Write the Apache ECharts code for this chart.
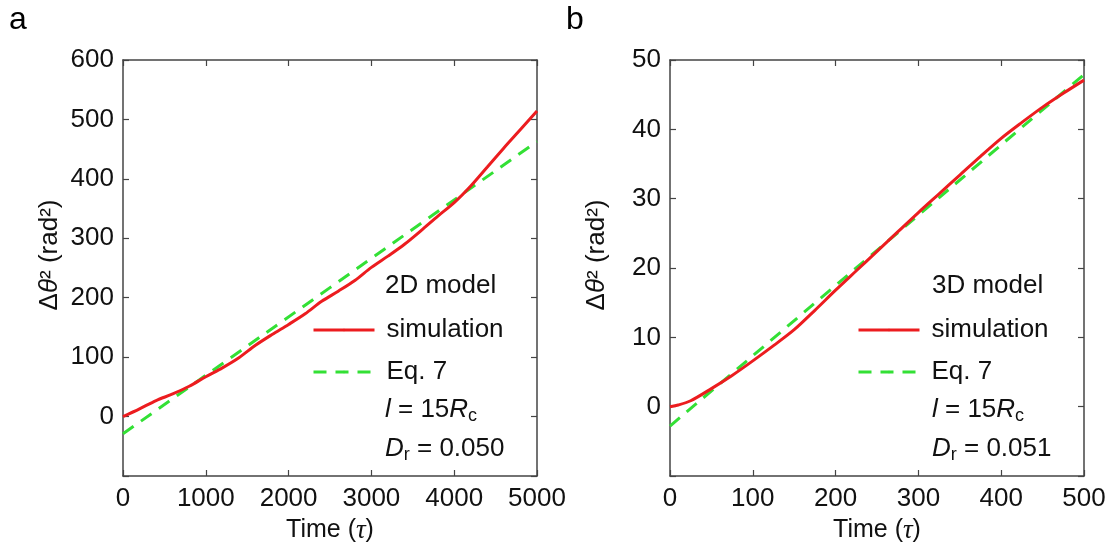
<!DOCTYPE html>
<html>
<head>
<meta charset="utf-8">
<script src="https://cdn.jsdelivr.net/npm/echarts@6/dist/echarts.min.js"></script>
<style>
  html, body { margin: 0; padding: 0; background: #fff; }
  #main { width: 1119px; height: 544px; }
</style>
</head>
<body>
<div id="main"></div>
<script>
// panel a : 2D model
var timeA = [0, 200, 400, 600, 800, 1000, 1200, 1400, 1600, 1800, 2000, 2200, 2400, 2600, 2800, 3000, 3200, 3400, 3600, 3800, 4000, 4200, 4400, 4600, 4800, 5000];
var simA  = [0, 13, 27, 38, 51, 67, 82, 99, 120, 138, 155, 173, 194, 211, 229, 251, 270, 290, 313, 337, 360, 388, 420, 452, 483, 514];
var eqTimeA = [0, 5000];
var eqA     = [-29, 463];

// panel b : 3D model
var timeB = [0, 10, 25, 50, 75, 100, 125, 150, 175, 200, 225, 250, 275, 300, 325, 350, 375, 400, 425, 450, 475, 500];
var simB  = [0, 0.25, 0.85, 2.6, 4.5, 6.6, 8.8, 11.1, 13.9, 16.8, 19.6, 22.4, 25.2, 28, 30.7, 33.4, 36.1, 38.7, 41.0, 43.2, 45.2, 47.1];
var eqTimeB = [0, 500];
var eqB     = [-2.8, 47.9];

// axis ranges (min, max, step)
var xRangeA = [0, 5000, 1000];
var yRangeA = [-100, 600, 100];
var xRangeB = [0, 500, 100];
var yRangeB = [-10, 50, 10];

var legendNames = ['simulation', 'Eq. 7'];
var infoA = ['2D model', '{it|l} = 15{it|R}{sub|c}', '{it|D}{sub|r} = 0.050'];
var infoB = ['3D model', '{it|l} = 15{it|R}{sub|c}', '{it|D}{sub|r} = 0.051'];

var FONT = 'Liberation Sans, Arial, sans-serif';
var AXIS_COLOR = '#444';
var RED = '#ec1c1f';
var GREEN = '#33e035';
var DASH = [13, 9];

function zip(xs, ys) {
  var res = [];
  for (var i = 0; i < xs.length; i++) res.push([xs[i], ys[i]]);
  return res;
}

function xAxes(gi, r) {
  var base = {
    type: 'value', gridIndex: gi, min: r[0], max: r[1], interval: r[2],
    splitLine: { show: false },
    axisLine: { onZero: false, lineStyle: { color: AXIS_COLOR, width: 1.5 } },
    axisTick: { inside: true, length: 6, lineStyle: { color: AXIS_COLOR, width: 1.2 } }
  };
  var bottom = Object.assign({}, base, {
    position: 'bottom',
    name: '{n|Time (}{i|τ}{n|)}',
    nameLocation: 'middle',
    nameGap: 41,
    nameTextStyle: {
      rich: {
        n: { fontFamily: FONT, fontSize: 25, color: '#111' },
        i: { fontFamily: 'Liberation Serif, serif', fontStyle: 'italic', fontSize: 27, color: '#111' }
      }
    },
    axisLabel: {
      margin: 10, fontFamily: FONT, fontSize: 26, color: '#111',
      formatter: function (v) { return String(v); }
    }
  });
  var top = Object.assign({}, base, { position: 'top', axisLabel: { show: false } });
  return [bottom, top];
}

function yAxes(gi, r) {
  var base = {
    type: 'value', gridIndex: gi, min: r[0], max: r[1], interval: r[2],
    splitLine: { show: false },
    axisLine: { onZero: false, lineStyle: { color: AXIS_COLOR, width: 1.5 } },
    axisTick: { inside: true, length: 6, lineStyle: { color: AXIS_COLOR, width: 1.2 } }
  };
  var left = Object.assign({}, base, {
    position: 'left',
    name: '{n|Δ}{i|θ}{n|² (rad²)}',
    nameLocation: 'middle',
    nameRotate: 90,
    nameGap: 60,
    nameTextStyle: {
      padding: [0, 0, 0, 26],
      rich: {
        n: { fontFamily: FONT, fontSize: 26, color: '#111' },
        i: { fontFamily: FONT, fontStyle: 'italic', fontSize: 26, color: '#111' }
      }
    },
    axisLabel: {
      margin: 9, fontFamily: FONT, fontSize: 26, color: '#111',
      formatter: function (v) { return v < 0 ? '' : String(v); }
    }
  });
  var right = Object.assign({}, base, { position: 'right', axisLabel: { show: false } });
  return [left, right];
}

function lineSeries(name, axisIdx, data, color, dash) {
  return {
    name: name, type: 'line',
    xAxisIndex: axisIdx, yAxisIndex: axisIdx,
    data: data, symbol: 'none', smooth: 0.3,
    lineStyle: { color: color, width: 3, type: dash || 'solid' },
    itemStyle: { color: color },
    z: dash ? 3 : 4,
    animation: false
  };
}

// legend line samples: itemHeight kept tiny so the symbol hides under the line
function legendFor(left) {
  return {
    orient: 'vertical', left: left, top: 315, padding: 0,
    itemWidth: 61, itemHeight: 3, itemGap: 12,
    selectedMode: false,
    data: legendNames,
    lineStyle: { width: 3 },
    textStyle: { fontFamily: FONT, fontSize: 26, color: '#111', lineHeight: 30, padding: [0, 0, 0, 7] }
  };
}

function infoText(left, lines) {
  var rich = {
    it: { fontFamily: FONT, fontStyle: 'italic', fontSize: 26, color: '#111', lineHeight: 30 },
    sub: { fontFamily: FONT, fontSize: 18, color: '#111', lineHeight: 8, verticalAlign: 'bottom' }
  };
  var ys = [286, 410, 449];
  var out = [];
  for (var i = 0; i < lines.length; i++) {
    out.push({
      type: 'text', left: left, top: ys[i] - 15,
      style: { text: lines[i], rich: rich, font: '26px ' + FONT, fill: '#111', lineHeight: 30 }
    });
  }
  return out;
}

var dom = document.getElementById('main');
var myChart = echarts.init(dom);

var option = {
  animation: false,
  grid: [
    { left: 123, top: 60, width: 414, height: 416, containLabel: false, outerBoundsMode: 'none' },
    { left: 670, top: 60, width: 414, height: 416, containLabel: false, outerBoundsMode: 'none' }
  ],
  xAxis: xAxes(0, xRangeA).concat(xAxes(1, xRangeB)),
  yAxis: yAxes(0, yRangeA).concat(yAxes(1, yRangeB)),
  legend: [legendFor(312), legendFor(857)],
  series: [
    lineSeries('Eq. 7', 0, zip(eqTimeA, eqA), GREEN, DASH),
    lineSeries('simulation', 0, zip(timeA, simA), RED),
    lineSeries('Eq. 7', 2, zip(eqTimeB, eqB), GREEN, DASH),
    lineSeries('simulation', 2, zip(timeB, simB), RED)
  ],
  graphic: [
    { type: 'text', left: 9, top: 4, style: { text: 'a', font: '32px ' + FONT, fill: '#000' } },
    { type: 'text', left: 566, top: 4, style: { text: 'b', font: '32px ' + FONT, fill: '#000' } }
  ].concat(infoText(385, infoA)).concat(infoText(932, infoB))
};

myChart.setOption(option);
</script>
</body>
</html>
